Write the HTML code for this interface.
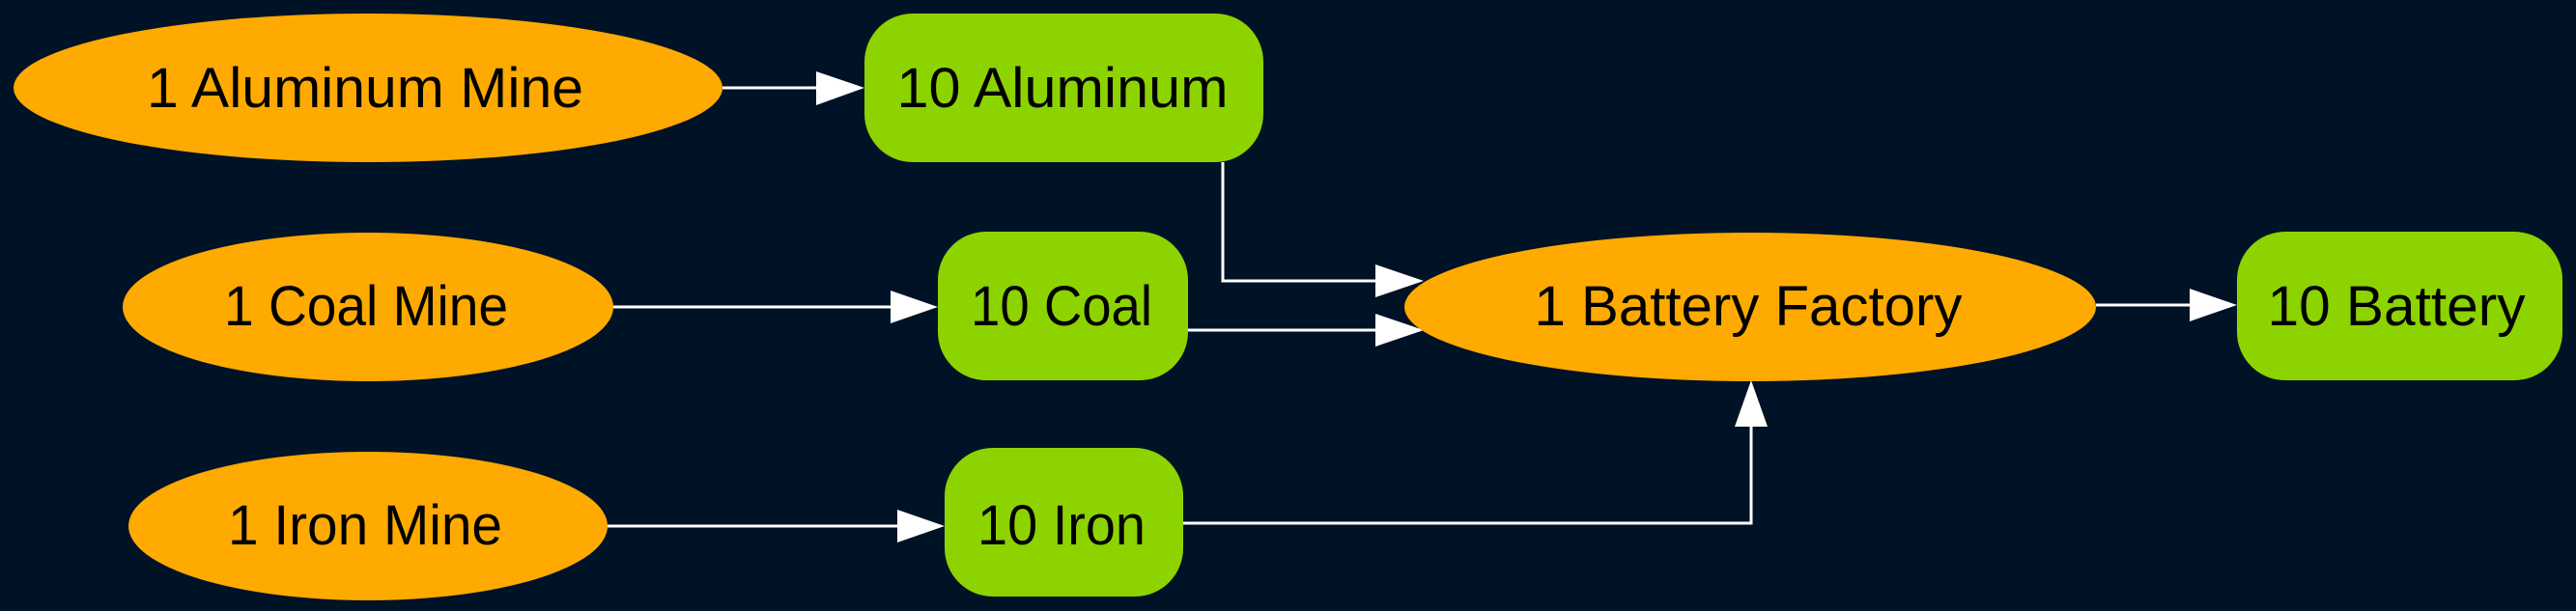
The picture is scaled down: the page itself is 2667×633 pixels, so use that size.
<!DOCTYPE html>
<html><head><meta charset="utf-8"><style>
html,body{margin:0;padding:0;background:#001226;}
svg{display:block}
text{font-family:"Liberation Sans",sans-serif;font-size:58px;fill:#000;}
</style></head><body>
<svg width="2667" height="633" viewBox="0 0 2667 633" xmlns="http://www.w3.org/2000/svg">
<rect width="2667" height="633" fill="#001226"/>
<g stroke="#fff" stroke-width="3" fill="none">
<path d="M748 91H848"/>
<path d="M635 318H925"/>
<path d="M629 545H932"/>
<path d="M1266 168V291H1428"/>
<path d="M1230 342H1428"/>
<path d="M1225 542H1813V440"/>
<path d="M2170 316H2270"/>
</g>
<g fill="#fff">
<polygon points="845,74 895,91 845,109"/>
<polygon points="922,301 971,318 922,335"/>
<polygon points="929,528 978,545 929,562"/>
<polygon points="1424,274 1474,291 1424,308"/>
<polygon points="1424,325 1474,342 1424,359"/>
<polygon points="1796,442 1813,394 1830,442"/>
<polygon points="2267,299 2316,316 2267,333"/>
</g>
<g fill="#FFAA00">
<ellipse cx="381" cy="91" rx="367" ry="77"/>
<ellipse cx="381" cy="318" rx="254" ry="77"/>
<ellipse cx="381" cy="545" rx="248" ry="77"/>
<ellipse cx="1812" cy="318" rx="358" ry="77"/>
</g>
<g fill="#8DD300">
<rect x="895" y="14" width="413" height="154" rx="50" ry="50"/>
<rect x="971" y="240" width="259" height="154" rx="50" ry="50"/>
<rect x="978" y="464" width="247" height="154" rx="50" ry="50"/>
<rect x="2316" y="240" width="337" height="154" rx="50" ry="50"/>
</g>
<g text-anchor="middle" lengthAdjust="spacingAndGlyphs">
<text x="378" y="111" textLength="452" lengthAdjust="spacingAndGlyphs">1 Aluminum Mine</text>
<text x="1100" y="111" textLength="343" lengthAdjust="spacingAndGlyphs">10 Aluminum</text>
<text x="379" y="337" textLength="294" lengthAdjust="spacingAndGlyphs">1 Coal Mine</text>
<text x="1099" y="337" textLength="188" lengthAdjust="spacingAndGlyphs">10 Coal</text>
<text x="378" y="564" textLength="284" lengthAdjust="spacingAndGlyphs">1 Iron Mine</text>
<text x="1099" y="564" textLength="174" lengthAdjust="spacingAndGlyphs">10 Iron</text>
<text x="1810" y="337" textLength="443" lengthAdjust="spacingAndGlyphs">1 Battery Factory</text>
<text x="2481" y="337" textLength="267" lengthAdjust="spacingAndGlyphs">10 Battery</text>
</g>
</svg>
</body></html>
